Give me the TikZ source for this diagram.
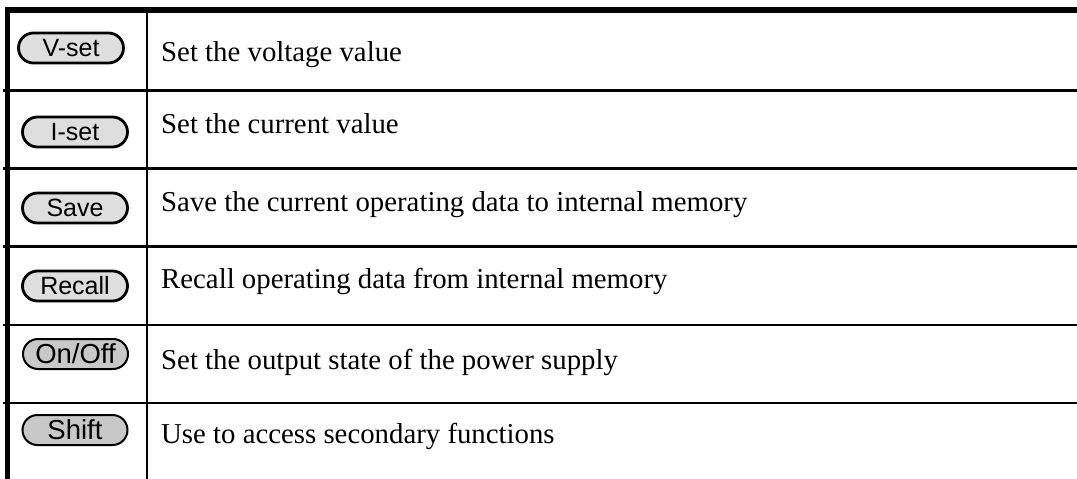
\documentclass[tikz,border=0pt]{standalone}
\usepackage{fontspec}
\setmainfont{Liberation Serif}
\setsansfont{Liberation Sans}
\definecolor{btnA}{RGB}{222,222,222}
\definecolor{btnB}{RGB}{200,200,200}
\tikzset{
  btn/.style={draw=black, line width=2.8pt, fill=btnA, rounded corners=15pt,
    minimum width=105pt, minimum height=30pt, inner sep=0pt,
    font=\sffamily\fontsize{25}{25}\selectfont},
  btnd/.style={btn, fill=btnB, line width=2pt,
    font=\sffamily\fontsize{27.5}{27.5}\selectfont},
  desc/.style={anchor=base west, inner sep=0pt, font=\fontsize{28.8}{30}\selectfont},
  rowrule/.style={line width=2.5pt},
}
\begin{document}
\begin{tikzpicture}[x=1pt,y=-1pt]
\useasboundingbox (0,0) rectangle (1077,479);
% table frame
\draw[line width=6pt] (5,10) -- (1077,10);
\draw[line width=5.5pt] (7.5,7) -- (7.5,479);
\draw[line width=2pt] (147,10) -- (147,479);
\foreach \yy in {90.7,168.3,246.7,325,402.8}{
  \draw[rowrule] (3,\yy) -- (1077,\yy);
}
% buttons
\node[btn]  (vset)   at (71,48)   {V-set};
\node[btn]  (iset)   at (75,132)  {I-set};
\node[btn]  (save)   at (75,208)  {Save};
\node[btn]  (recall) at (75,286)  {Recall};
\node[btnd] (onoff)  at (75.5,354) {On/Off};
\node[btnd] (shift)  at (75,430)  {Shift};
% descriptions
\node[desc] (dvset)   at (161,61)  {Set the voltage value};
\node[desc] (diset)   at (161,133) {Set the current value};
\node[desc] (dsave)   at (161,211) {Save the current operating data to internal memory};
\node[desc] (drecall) at (161,288) {Recall operating data from internal memory};
\node[desc] (donoff)  at (161,369) {Set the output state of the power supply};
\node[desc] (dshift)  at (161,443) {Use to access secondary functions};
\end{tikzpicture}
\end{document}
